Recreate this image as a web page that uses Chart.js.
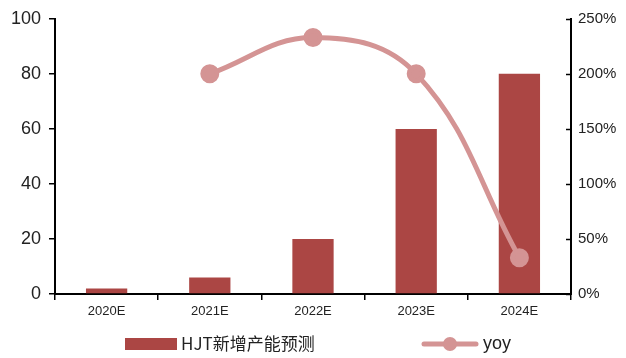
<!DOCTYPE html>
<html>
<head>
<meta charset="utf-8">
<script src="https://cdn.jsdelivr.net/npm/chart.js@4/dist/chart.umd.min.js"></script>
<style>
  html, body { margin: 0; padding: 0; background: #fff; }
</style>
</head>
<body>
<canvas id="chart_dest" width="626" height="358"></canvas>
<script>
// data
var categories = ["2020E", "2021E", "2022E", "2023E", "2024E"];
var capacity = [2, 6, 20, 60, 80];           // HJT新增产能预测
var yoy = [null, 200, 233, 200, 33];          // yoy, %
var leftTicks = [0, 20, 40, 60, 80, 100];
var rightTicks = [0, 50, 100, 150, 200, 250];

var barColor = "#AB4644";
var lineColor = "#D49494";

// right axis tick marks point inward, legend drawn by hand
var extrasPlugin = {
  id: "extras",
  afterDraw: function (chart) {
    var c = chart.ctx;
    var s = chart.scales.y1;
    c.save();
    c.strokeStyle = "#000";
    c.lineWidth = 1.5;
    rightTicks.forEach(function (v) {
      var py = Math.round(s.getPixelForValue(v)) + 0.5;
      c.beginPath();
      c.moveTo(s.left - 5, py);
      c.lineTo(s.left, py);
      c.stroke();
    });

    var y = 344;
    c.fillStyle = barColor;
    c.fillRect(125, y - 6, 52, 12);
    c.fillStyle = "#222";
    c.font = "17px 'Noto Sans CJK SC', 'Liberation Sans', sans-serif";
    c.textBaseline = "middle";
    c.fillText("HJT新增产能预测", 181, y);
    c.strokeStyle = lineColor;
    c.lineWidth = 5;
    c.lineCap = "round";
    c.beginPath();
    c.moveTo(424, y);
    c.lineTo(476, y);
    c.stroke();
    c.fillStyle = lineColor;
    c.beginPath();
    c.arc(450, y, 7, 0, Math.PI * 2);
    c.fill();
    c.fillStyle = "#222";
    c.font = "18px 'Liberation Sans', sans-serif";
    c.fillText("yoy", 483, y);
    c.restore();
  }
};

var ctx = document.getElementById("chart_dest");

var myChart = new Chart(ctx, {
  type: "bar",
  data: {
    labels: categories,
    datasets: [
      {
        type: "line",
        label: "yoy",
        data: yoy,
        yAxisID: "y1",
        borderColor: lineColor,
        backgroundColor: lineColor,
        borderWidth: 5,
        pointRadius: 7,
        pointHoverRadius: 7,
        tension: 0.4,
        order: 0
      },
      {
        label: "HJT新增产能预测",
        data: capacity,
        yAxisID: "y",
        backgroundColor: barColor,
        barPercentage: 0.8,
        categoryPercentage: 0.5,
        order: 1
      }
    ]
  },
  options: {
    responsive: false,
    animation: false,
    devicePixelRatio: 1,
    layout: { padding: { top: 17, bottom: 36, left: 0, right: 0 } },
    plugins: {
      legend: { display: false },
      tooltip: { enabled: false }
    },
    scales: {
      x: {
        offset: true,
        grid: { offset: true, drawOnChartArea: false, tickLength: 6, color: "#000", lineWidth: 1.5 },
        border: { color: "#000", width: 2 },
        ticks: { color: "#222", font: { family: "'Liberation Sans', sans-serif", size: 13 }, padding: 4, maxRotation: 0, autoSkip: false },
        afterFit: function (s) { s.height = 28; }
      },
      y: {
        position: "left",
        min: 0,
        max: 100,
        afterBuildTicks: function (s) { s.ticks = leftTicks.map(function (v) { return { value: v }; }); },
        grid: { drawOnChartArea: false, tickLength: 6, color: "#000", lineWidth: 1.5 },
        border: { color: "#000", width: 2 },
        ticks: { color: "#222", font: { family: "'Liberation Sans', sans-serif", size: 18 }, padding: 8 },
        afterFit: function (s) { s.width = 55; }
      },
      y1: {
        position: "right",
        min: 0,
        max: 250,
        afterBuildTicks: function (s) { s.ticks = rightTicks.map(function (v) { return { value: v }; }); },
        grid: { drawOnChartArea: false, drawTicks: false },
        border: { color: "#000", width: 2 },
        ticks: {
          color: "#222",
          font: { family: "'Liberation Sans', sans-serif", size: 15 },
          padding: 7,
          callback: function (v) { return v + "%"; }
        },
        afterFit: function (s) { s.width = 55; }
      }
    }
  },
  plugins: [extrasPlugin]
});
</script>
</body>
</html>
